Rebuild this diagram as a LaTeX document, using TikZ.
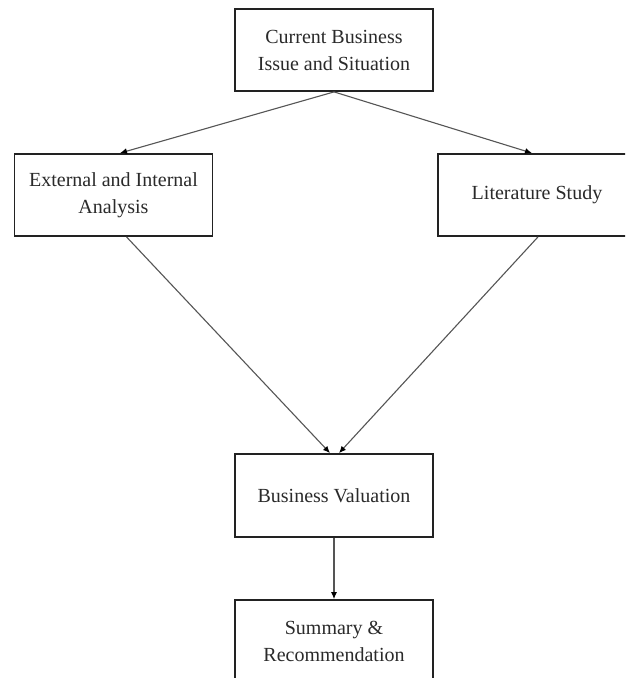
\documentclass[tikz,border=0pt]{standalone}
\usepackage{fontspec}
\setmainfont{Liberation Serif}
\usetikzlibrary{arrows.meta}
\definecolor{boxline}{HTML}{222222}
\definecolor{arrline}{HTML}{555555}
\definecolor{txt}{HTML}{2A2A2A}
\begin{document}
\begin{tikzpicture}[x=1pt,y=1pt,
  box/.style={draw=boxline, line width=1.8pt, fill=white, minimum width=198pt, minimum height=82pt,
    align=center, inner sep=0pt, font=\fontsize{20}{27}\selectfont, text=txt},
  conn/.style={draw=arrline, line width=1.1pt, -{Latex[length=7pt,width=6pt,color=black]}}]
\useasboundingbox (0,0) rectangle (625,678);
\clip (0,0) rectangle (625,678);
\fill[white] (0,0) rectangle (625,678);
\node[box] (top) at (334,628) {Current Business\\Issue and Situation};
\node[box] (left) at (113.5,483) {External and Internal\\Analysis};
\node[box] (right) at (537,483) {Literature Study};
\node[box, minimum height=83pt] (mid) at (334,182.5) {Business Valuation};
\node[box] (bot) at (334,37) {Summary \&\\Recommendation};
\draw[conn] (top.south) -- ([xshift=6.5pt]left.north);
\draw[conn] (top.south) -- ([xshift=-5pt]right.north);
\draw[conn] ([xshift=13pt]left.south) -- ([xshift=-4pt]mid.north);
\draw[conn] ([xshift=1pt]right.south) -- ([xshift=5pt]mid.north);
\draw[conn] (mid.south) -- (bot.north);
\end{tikzpicture}
\end{document}
